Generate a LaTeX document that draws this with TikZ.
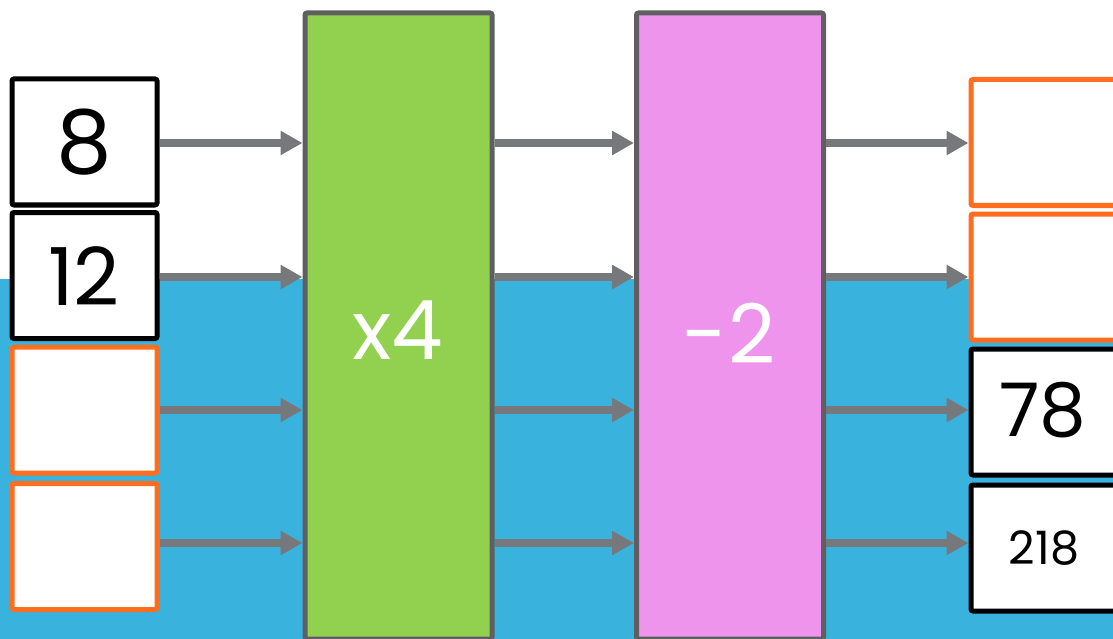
\documentclass[tikz,border=0pt]{standalone}
\usepackage{fontspec}
\setmainfont{Poppins}
\usetikzlibrary{arrows.meta}
\definecolor{skyblue}{HTML}{3AB2DE}
\definecolor{leaf}{HTML}{92D050}
\definecolor{pinkish}{HTML}{EE94EC}
\definecolor{frame}{HTML}{5F5F62}
\definecolor{arrowgray}{HTML}{77787B}
\definecolor{orng}{HTML}{FF6E1E}
\tikzset{
  valbox/.style={draw=black, fill=white, line width=5pt, rounded corners=2pt, minimum width=145pt, minimum height=126pt, inner sep=0pt},
  blankbox/.style={valbox, draw=orng},
  opbox/.style={draw=frame, line width=5pt, rounded corners=2pt, minimum width=187pt, minimum height=626pt, anchor=north west, inner sep=0pt},
  flow/.style={draw=arrowgray, line width=8pt, -{Triangle[length=22pt,width=23pt]}},
  bignum/.style={font=\fontsize{88}{90}\selectfont},
  optext/.style={font=\fontsize{82}{84}\selectfont, text=white}
}
\begin{document}
\begin{tikzpicture}[x=1pt,y=-1pt]
\useasboundingbox (0,0) rectangle (1113,639);
\clip (0,0) rectangle (1113,639);
\fill[white] (0,0) rectangle (1113,639);
\fill[skyblue] (0,279) rectangle (1113,639);
% row coordinates
\coordinate (row1) at (0,143);
\coordinate (row2) at (0,277);
\coordinate (row3) at (0,410);
\coordinate (row4) at (0,543);
% operation blocks
\node[opbox, fill=leaf] (green) at (302.5,10.5) {};
\node[opbox, fill=pinkish] (pink) at (634,10.5) {};
\node[optext] (times) at (398,330) {x4};
\node[optext] (minus) at (729,333) {-2};
% left boxes
\node[valbox] (l1) at (84.5,142) {};
\node[bignum] (l1t) at (84,142) {8};
\node[valbox] (l2) at (84.5,275.5) {};
\node[font=\fontsize{80}{82}\selectfont] (l2t) at (84,276) {12};
\node[blankbox] (l3) at (84.5,410) {};
\node[blankbox] (l4) at (84.5,546.5) {};
% right boxes
\node[blankbox] (r1) at (1043.5,142.5) {};
\node[blankbox] (r2) at (1043.5,277) {};
\node[valbox] (r3) at (1043.5,412) {};
\node[font=\fontsize{74}{76}\selectfont] (r3t) at (1043,410) {78};
\node[valbox] (r4) at (1043.5,548) {};
\node[font=\fontsize{46}{48}\selectfont] (r4t) at (1044,548) {218};
% arrows
\foreach \i in {1,2,3,4}{
  \draw[flow] (l\i.east |- row\i) -- (green.west |- row\i);
  \draw[flow] (green.east |- row\i) -- (pink.west |- row\i);
  \draw[flow] (pink.east |- row\i) -- (r\i.west |- row\i);
}
\end{tikzpicture}
\end{document}
